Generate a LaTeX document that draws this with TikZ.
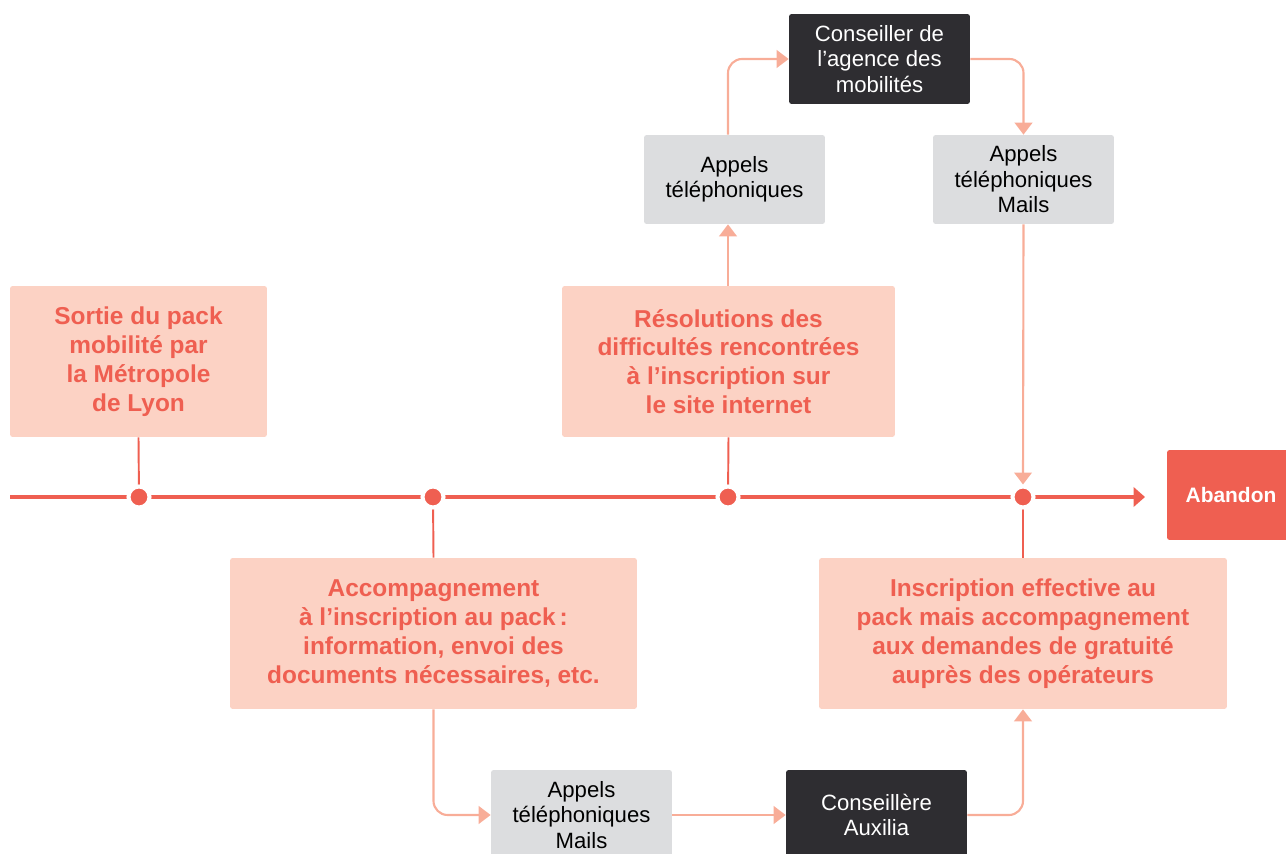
\documentclass[tikz,border=0pt]{standalone}
\usepackage{fontspec}
\setmainfont{Liberation Sans}
\usetikzlibrary{arrows.meta}

\definecolor{rouge}{HTML}{EF5F51}
\definecolor{rose}{HTML}{FCD2C4}
\definecolor{saumon}{HTML}{F8AD98}
\definecolor{gris}{HTML}{DCDDDF}
\definecolor{noir}{HTML}{2E2D31}

\tikzset{
  etape/.style={fill=rose, text=rouge, align=center, rounded corners=1.5pt,
    minimum height=3.02cm, inner sep=0pt,
    font=\fontsize{13.9}{16.4}\selectfont\bfseries},
  canal/.style={fill=gris, text=black, align=center, rounded corners=1.5pt,
    minimum width=3.62cm, minimum height=1.78cm, inner sep=0pt,
    font=\fontsize{12.6}{14.5}\selectfont},
  acteur/.style={canal, fill=noir, text=white, minimum height=1.8cm},
  jalon/.style={circle, fill=rouge, draw=white, line width=2.3pt,
    minimum size=0.42cm, inner sep=0pt},
  tige/.style={rouge, line width=1.1pt},
  lien/.style={saumon, line width=1.2pt, rounded corners=8pt,
    -{Triangle[width=10pt,length=6.8pt]}}
}

\begin{document}
\begin{tikzpicture}
[x=0.02cm, y=-0.02cm]
\useasboundingbox (0,0) rectangle (1286,854);

% etapes
\node[etape, minimum width=5.14cm] (sortie) at (138.5,361.5)
  {Sortie du pack\\mobilité par\\la Métropole\\de Lyon};
\node[etape, minimum width=6.66cm] (resol) at (728.5,361.5)
  {Résolutions des\\difficultés rencontrées\\à l’inscription sur\\le site internet};
\node[etape, minimum width=8.14cm] (accomp) at (433.5,633.5)
  {Accompagnement\\à l’inscription au pack\,:\\information, envoi des\\documents nécessaires, etc.};
\node[etape, minimum width=8.16cm] (inscr) at (1023,633.5)
  {Inscription effective au\\pack mais accompagnement\\aux demandes de gratuité\\auprès des opérateurs};
\node[fill=rouge, text=white, rounded corners=1.5pt, minimum width=2.56cm,
  minimum height=1.8cm, inner sep=0pt, font=\fontsize{11.9}{14}\selectfont\bfseries]
  (abandon) at (1231,495) {Abandon};

% canaux et acteurs
\node[canal] (appA) at (734.5,179.5) {Appels\\téléphoniques};
\node[acteur] (conseil) at (879.5,59) {Conseiller de\\l’agence des\\mobilités};
\node[canal] (appB) at (1023.5,179.5) {Appels\\téléphoniques\\Mails};
\node[canal, minimum height=1.8cm] (appC) at (581.5,815) {Appels\\téléphoniques\\Mails};
\node[acteur] (auxilia) at (876.5,815) {Conseillère\\Auxilia};

% frise
\coordinate (debut) at (10,497);
\coordinate (fin) at (1145,497);
\coordinate (j1) at (139,497);
\coordinate (j2) at (433,497);
\coordinate (j3) at (728,497);
\coordinate (j4) at (1023,497);
\draw[rouge, line width=2.8pt, -{Triangle[width=11pt,length=6.5pt]}] (debut) -- (fin);

\draw[tige] (sortie.south) -- (j1);
\draw[tige] (accomp.north) -- (j2);
\draw[tige] (resol.south) -- (j3);
\draw[tige] (inscr.north) -- (j4);

\node[jalon] (p1) at (j1) {};
\node[jalon] (p2) at (j2) {};
\node[jalon] (p3) at (j3) {};
\node[jalon] (p4) at (j4) {};

% parcours
\draw[lien] (j3 |- resol.north) -- (j3 |- appA.south);
\draw[lien] (j3 |- appA.north) |- (conseil.west);
\draw[lien] (conseil.east) -| (appB.north);
\draw[lien] (appB.south) -- (p4.north);
\draw[lien] (accomp.south) |- (appC.west);
\draw[lien] (appC.east) -- (auxilia.west);
\draw[lien] (auxilia.east) -| (inscr.south);

\end{tikzpicture}
\end{document}
